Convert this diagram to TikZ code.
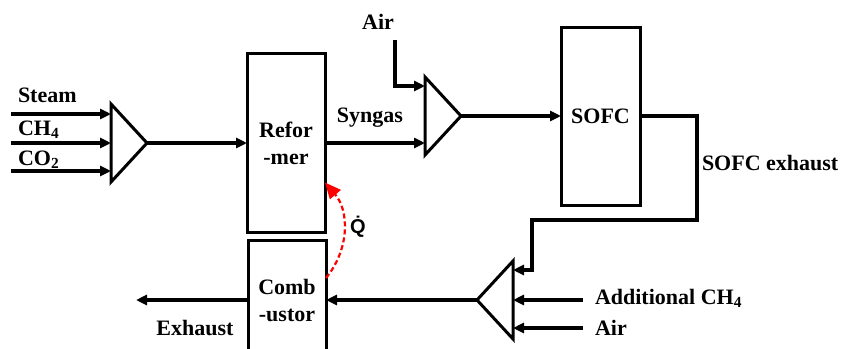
\documentclass[tikz,border=0pt]{standalone}
\usepackage{fontspec}
\setmainfont{Liberation Serif}
\newfontfamily\heatfont{Liberation Sans}
\usepackage{xcolor}
\usetikzlibrary{arrows.meta,calc,shapes.geometric}
\definecolor{pipestroke}{HTML}{000000}
\definecolor{heatred}{HTML}{FF0000}

\begin{document}
\begin{tikzpicture}[
  x=1pt,
  y=-1pt,
  every node/.style={
    inner sep=0pt,
    outer sep=0pt,
    font=\fontsize{22}{27}\selectfont\bfseries
  },
  unit/.style={
    draw=pipestroke,
    line width=3pt,
    rectangle,
    align=center,
    minimum width=78pt
  },
  mixer/.style={
    draw=pipestroke,
    line width=3pt,
    isosceles triangle,
    isosceles triangle stretches,
    minimum width=78pt,
    minimum height=36pt
  },
  flow/.style={
    draw=pipestroke,
    line width=3.2pt,
    -{Triangle[length=11pt,width=10pt]}
  },
  heat/.style={
    draw=heatred,
    line width=2.2pt,
    dash pattern=on 5pt off 3pt,
    -{Triangle[length=16pt,width=14pt]}
  },
  tag/.style={
    anchor=west
  }
]

\path[use as bounding box] (0,0) rectangle (842,348);
\clip (0,0) rectangle (842,348);

% Units
\node[unit, minimum height=179pt] (refor) at (286,143) {Refor\\-mer};
\node[unit, minimum height=178pt, minimum width=79pt] (sofc) at (600.5,116) {SOFC};
\node[unit, minimum height=120pt] (comb) at (287,300) {Comb\\-ustor};

% Mixers
\node[mixer, anchor=apex] (mixfeed) at (147,143) {};
\node[mixer, anchor=apex] (mixcell) at (461,116) {};
\node[mixer, anchor=apex, shape border rotate=180] (mixburn) at (477,300) {};

% Free ends of the streams
\coordinate (steamin)  at (11,114);
\coordinate (ch4in)    at (11,143);
\coordinate (co2in)    at (11,171);
\coordinate (airtop)   at (395,40);
\coordinate (airjoin)  at (395,86);
\coordinate (exbendA)  at (697,220);
\coordinate (exbendB)  at (532,220);
\coordinate (exjoin)   at (532,270);
\coordinate (addin)    at (583,300);
\coordinate (airin)    at (583,328);
\coordinate (exhaustout) at (136,300);
\coordinate (heatout)  at ($(comb.north east)+(0,38)$);
\coordinate (heatin)   at ($(refor.south east)+(0,-50)$);

% Feed to reformer
\draw[flow] (steamin) -- (steamin -| mixfeed.lower side);
\draw[flow] (ch4in) -- (ch4in -| mixfeed.lower side);
\draw[flow] (co2in) -- (co2in -| mixfeed.lower side);
\draw[flow] (mixfeed.apex) -- (mixfeed.apex -| refor.west);

% Reformer to SOFC
\draw[flow] (refor.east) -- (refor.east -| mixcell.lower side);
\draw[flow] (airtop) |- (airjoin -| mixcell.lower side);
\draw[flow] (mixcell.apex) -- (mixcell.apex -| sofc.west);

% SOFC exhaust to combustor
\draw[flow] (sofc.east) -| (exbendA) -- (exbendB) |- (exjoin -| mixburn.lower side);
\draw[flow] (addin) -- (addin -| mixburn.lower side);
\draw[flow] (airin) -- (airin -| mixburn.lower side);
\draw[flow] (mixburn.apex) -- (mixburn.apex -| comb.east);
\draw[flow] (comb.west) -- (exhaustout);

% Heat to reformer
\draw[heat] (heatout) to[bend right=40] (heatin);

% Labels
\node[tag] (steamlbl) at (18,95) {Steam};
\node[tag] (ch4lbl) at (18,130) {CH\textsubscript{4}};
\node[tag] (co2lbl) at (18,160) {CO\textsubscript{2}};
\node (airlbl) at (378,22) {Air};
\node (syngaslbl) at (370,118) {Syngas};
\node[tag] (exhlbl) at (702,163) {SOFC exhaust};
\node[tag] (addlbl) at (595,298) {Additional CH\textsubscript{4}};
\node[tag] (air2lbl) at (595,328) {Air};
\node (outlbl) at (195,328) {Exhaust};
\node[font=\heatfont\fontsize{20}{24}\selectfont\bfseries] (qlbl) at (358,227) {\.{Q}};

\end{tikzpicture}
\end{document}
